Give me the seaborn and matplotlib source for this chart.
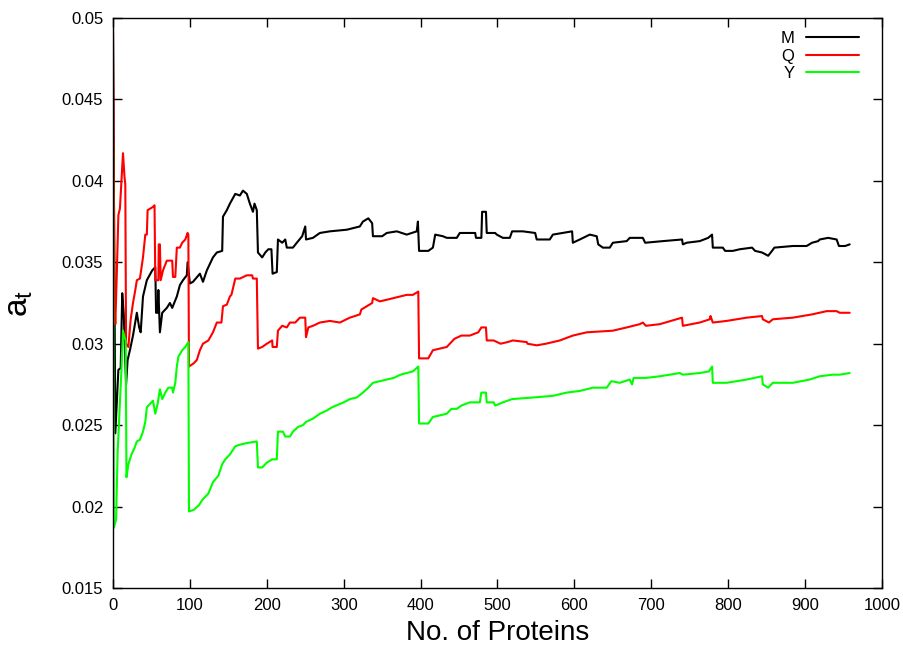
import matplotlib
matplotlib.use("Agg")
import matplotlib.pyplot as plt
import seaborn as sns
import pandas as pd

# ---- data (x = No. of Proteins, y = a_t) ----
M_points = [(0, 0.0493), (3, 0.0245), (5, 0.0264), (7, 0.0284), (10, 0.0285), (12, 0.0331),
            (14, 0.0318), (17, 0.0275), (19, 0.0290), (22, 0.0296), (26, 0.0305), (31, 0.0319),
            (34, 0.0310), (36, 0.0307), (39, 0.0329), (44, 0.0339), (51, 0.0345), (55, 0.0347),
            (56, 0.0319), (58, 0.0319), (59, 0.0333), (61, 0.0307), (64, 0.0319), (70, 0.0322),
            (74, 0.0325), (77, 0.0322), (83, 0.0329), (87, 0.0336), (91, 0.0339), (96, 0.0342),
            (97, 0.0350), (100, 0.0337), (104, 0.0338), (113, 0.0343), (117, 0.0338), (122, 0.0345),
            (130, 0.0353), (135, 0.0356), (142, 0.0357), (143, 0.0378), (148, 0.0382), (152, 0.0386),
            (159, 0.0392), (165, 0.0391), (169, 0.0394), (174, 0.0392), (178, 0.0386), (182, 0.0381),
            (184, 0.0386), (187, 0.0382), (188.5, 0.0356), (194, 0.0353), (198, 0.0356), (202, 0.0358),
            (206, 0.0358), (207.5, 0.0343), (213, 0.0344), (214.5, 0.0364), (220, 0.0362), (224, 0.0364),
            (226, 0.0359), (234, 0.0359), (239, 0.0362), (246, 0.0366), (250, 0.0372), (251, 0.0364),
            (260, 0.0365), (269, 0.0368), (282, 0.0369), (304, 0.0370), (321, 0.0372), (325, 0.0375),
            (332, 0.0377), (337, 0.0374), (338, 0.0366), (350, 0.0366), (356, 0.0368), (369, 0.0369),
            (382, 0.0367), (395, 0.0369), (396.5, 0.0375), (398, 0.0357), (410, 0.0357), (416, 0.0359),
            (419, 0.0367), (429, 0.0366), (434, 0.0365), (447, 0.0365), (451, 0.0368), (471, 0.0368),
            (472, 0.0365), (479, 0.0365), (480, 0.0381), (485, 0.0381), (486, 0.0368), (497, 0.0368),
            (499, 0.0367), (507, 0.0365), (516, 0.0365), (519, 0.0369), (533, 0.0369), (549, 0.0368),
            (551, 0.0364), (568, 0.0364), (572, 0.0367), (597, 0.0369), (598, 0.0362), (607, 0.0364),
            (620, 0.0367), (629, 0.0366), (631, 0.0361), (637, 0.0359), (646, 0.0359), (650, 0.0362),
            (668, 0.0363), (672, 0.0365), (689, 0.0365), (692, 0.0362), (715, 0.0363), (740, 0.0364),
            (741, 0.0361), (746, 0.0362), (763, 0.0363), (774, 0.0365), (779, 0.0367), (780, 0.0359),
            (793, 0.0359), (796, 0.0357), (806, 0.0357), (815, 0.0358), (831, 0.0359), (835, 0.0357),
            (844, 0.0356), (852, 0.0354), (857, 0.0357), (860, 0.0359), (884, 0.0360), (902, 0.0360),
            (909, 0.0362), (917, 0.0363), (919, 0.0364), (930, 0.0365), (941, 0.0364), (944, 0.0360),
            (952, 0.0360), (958, 0.0361)]

Q_points = [(0, 0.0490), (2, 0.0325), (3, 0.0312), (5, 0.0344), (7, 0.0379), (9, 0.0383),
            (13, 0.0417), (15, 0.0402), (16, 0.0398), (17, 0.0300), (20, 0.0298), (23, 0.0315),
            (26, 0.0325), (29, 0.0333), (31, 0.0339), (35, 0.0340), (39, 0.0353), (42, 0.0367),
            (44, 0.0367), (45, 0.0382), (52, 0.0384), (54, 0.0385), (55, 0.0339), (59, 0.0339),
            (59.5, 0.0361), (61, 0.0361), (62, 0.0339), (65, 0.0345), (70, 0.0351), (77, 0.0351),
            (78, 0.0341), (81, 0.0341), (83, 0.0359), (87, 0.0359), (90, 0.0362), (94, 0.0364),
            (97, 0.0368), (98, 0.0367), (98.8, 0.0286), (105, 0.0288), (109, 0.0290), (113, 0.0296),
            (117, 0.0300), (124, 0.0302), (130, 0.0307), (135, 0.0313), (141, 0.0313), (143, 0.0323),
            (148, 0.0324), (152, 0.0329), (154, 0.0330), (159, 0.0340), (165, 0.0340), (174, 0.0342),
            (181, 0.0342), (182, 0.0340), (187, 0.0340), (188.5, 0.0297), (194, 0.0298), (200, 0.0300),
            (207, 0.0302), (207.5, 0.0298), (213, 0.0298), (214.5, 0.0308), (220, 0.0311), (226, 0.0310),
            (230, 0.0313), (237, 0.0313), (243, 0.0316), (250, 0.0316), (251, 0.0304), (254, 0.0310),
            (260, 0.0311), (269, 0.0313), (282, 0.0314), (295, 0.0313), (308, 0.0316), (321, 0.0318),
            (323, 0.0321), (330, 0.0323), (337, 0.0325), (338, 0.0328), (347, 0.0326), (356, 0.0327),
            (373, 0.0329), (382, 0.0330), (390, 0.0330), (397, 0.0332), (398, 0.0291), (410, 0.0291),
            (416, 0.0296), (434, 0.0298), (440, 0.0301), (444, 0.0303), (453, 0.0305), (464, 0.0305),
            (475, 0.0307), (479, 0.0310), (485, 0.0310), (486, 0.0302), (495, 0.0302), (504, 0.0300),
            (513, 0.0301), (520, 0.0302), (538, 0.0301), (539, 0.0300), (551, 0.0299), (563, 0.0300),
            (581, 0.0302), (598, 0.0305), (616, 0.0307), (650, 0.0308), (668, 0.0310), (685, 0.0312),
            (689, 0.0313), (693, 0.0311), (711, 0.0312), (740, 0.0316), (741, 0.0311), (763, 0.0313),
            (776, 0.0315), (777, 0.0317), (780, 0.0313), (798, 0.0314), (824, 0.0316), (844, 0.0317),
            (845, 0.0315), (853, 0.0313), (858, 0.0315), (884, 0.0316), (909, 0.0318), (928, 0.0320),
            (941, 0.0320), (945, 0.0319), (958, 0.0319)]

Y_points = [(0, 0.0436), (1, 0.0187), (4, 0.0192), (6, 0.0233), (9, 0.0264), (11, 0.0284),
            (13, 0.0308), (15, 0.0304), (16.5, 0.0302), (17.5, 0.0218), (20, 0.0226), (24, 0.0232),
            (28, 0.0236), (31, 0.0240), (35, 0.0241), (39, 0.0246), (42, 0.0252), (44, 0.0261),
            (48, 0.0263), (52, 0.0265), (55, 0.0257), (58, 0.0263), (61, 0.0272), (64, 0.0266),
            (68, 0.0270), (72, 0.0273), (77, 0.0273), (78, 0.0270), (81, 0.0276), (83, 0.0286),
            (85, 0.0292), (90, 0.0296), (94, 0.0298), (98, 0.0301), (98.8, 0.0197), (105, 0.0198),
            (112, 0.0201), (116, 0.0204), (124, 0.0208), (130, 0.0215), (137, 0.0219), (142, 0.0226),
            (146, 0.0229), (152, 0.0232), (159, 0.0237), (165, 0.0238), (174, 0.0239), (187, 0.0240),
            (188.5, 0.0224), (194, 0.0224), (200, 0.0227), (207, 0.0229), (213, 0.0229), (214.5, 0.0246),
            (221, 0.0246), (224, 0.0243), (230, 0.0243), (234, 0.0246), (241, 0.0249), (247, 0.0250),
            (251, 0.0252), (260, 0.0254), (269, 0.0257), (278, 0.0259), (285, 0.0261), (300, 0.0264),
            (308, 0.0266), (317, 0.0267), (325, 0.0270), (332, 0.0273), (338, 0.0276), (356, 0.0278),
            (365, 0.0279), (374, 0.0281), (382, 0.0282), (390, 0.0283), (397, 0.0286), (398, 0.0251),
            (410, 0.0251), (416, 0.0255), (425, 0.0256), (434, 0.0257), (440, 0.0260), (447, 0.0260),
            (453, 0.0262), (464, 0.0264), (477, 0.0264), (479, 0.0270), (485, 0.0270), (486, 0.0264),
            (495, 0.0264), (497, 0.0262), (507, 0.0264), (519, 0.0266), (547, 0.0267), (572, 0.0268),
            (590, 0.0270), (607, 0.0271), (624, 0.0273), (642, 0.0273), (648, 0.0277), (659, 0.0276),
            (672, 0.0278), (675, 0.0275), (677, 0.0279), (693, 0.0279), (711, 0.0280), (737, 0.0282),
            (741, 0.0281), (763, 0.0282), (775, 0.0283), (779, 0.0286), (780, 0.0276), (798, 0.0276),
            (824, 0.0278), (844, 0.0280), (845, 0.0275), (852, 0.0273), (858, 0.0276), (884, 0.0276),
            (906, 0.0278), (919, 0.0280), (936, 0.0281), (945, 0.0281), (958, 0.0282)]

series_names = ["M", "Q", "Y"]
series_colors = {"M": "#000000", "Q": "#ff0000", "Y": "#00ff00"}
x_ticks = [0, 100, 200, 300, 400, 500, 600, 700, 800, 900, 1000]
y_ticks = [0.015, 0.02, 0.025, 0.03, 0.035, 0.04, 0.045, 0.05]
y_tick_labels = ["0.015", "0.02", "0.025", "0.03", "0.035", "0.04", "0.045", "0.05"]

# ---- build long-form table ----
rows = []
for name, pts in zip(series_names, [M_points, Q_points, Y_points]):
    for i, (x, y) in enumerate(pts):
        rows.append({"series": name, "order": i, "proteins": x, "a_t": y})
df = pd.DataFrame(rows)

sns.set_theme(style="ticks")
plt.rcParams["font.family"] = ["Liberation Sans", "DejaVu Sans"]
plt.rcParams["mathtext.fontset"] = "custom"
plt.rcParams["mathtext.rm"] = "Liberation Sans"
plt.rcParams["mathtext.it"] = "Liberation Sans"
plt.rcParams["text.color"] = "black"
plt.rcParams["axes.labelcolor"] = "black"
plt.rcParams["xtick.color"] = "black"
plt.rcParams["ytick.color"] = "black"

fig = plt.figure(figsize=(9.04, 6.46), dpi=100)
ax = fig.add_axes([113 / 904, 58 / 646, 769 / 904, 570 / 646])

sns.lineplot(data=df, x="proteins", y="a_t", hue="series", hue_order=series_names,
             palette=series_colors, estimator=None, sort=False, linewidth=1.5, ax=ax)

ax.set_xlim(0, 1000)
ax.set_ylim(0.015, 0.05)
ax.set_xticks(x_ticks)
ax.set_xticklabels([str(t) for t in x_ticks])
ax.set_yticks(y_ticks)
ax.set_yticklabels(y_tick_labels)
ax.tick_params(direction="in", length=6.5, width=1.0, top=True, right=True,
               labelsize=12, pad=7, colors="black")
for s in ax.spines.values():
    s.set_linewidth(1.0)
    s.set_color("black")

ax.set_xlabel("No. of Proteins", fontsize=20, labelpad=5, color="black")
ax.set_ylabel(r"$\mathregular{a_t}$", fontsize=24, labelpad=19, color="black")

handles, labels = ax.get_legend_handles_labels()
leg = ax.legend(handles, labels, loc="upper right", bbox_to_anchor=(0.975, 0.983),
                frameon=False, markerfirst=False, fontsize=12, handlelength=3.2,
                handletextpad=0.7, labelspacing=0.15, borderaxespad=0.0, borderpad=0.2)
for t in leg.get_texts():
    t.set_color("black")
for line in leg.get_lines():
    line.set_linewidth(1.5)

fig.savefig("out.png", dpi=100)
